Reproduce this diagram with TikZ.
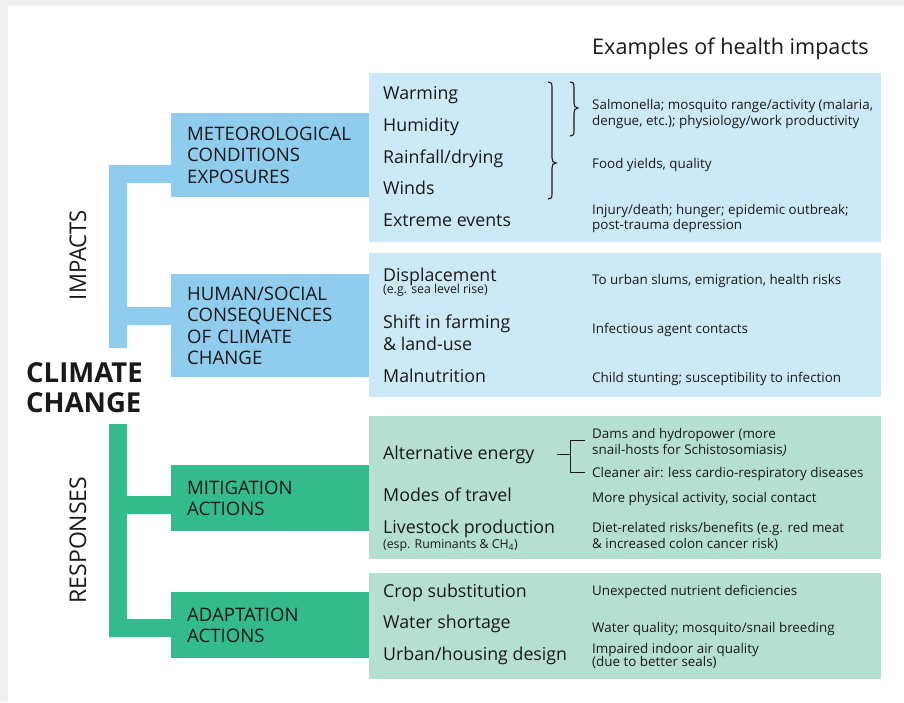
\documentclass[tikz,border=0pt]{standalone}
\usepackage{fontspec}
\setmainfont{Open Sans}
\definecolor{bggray}{RGB}{238,240,242}
\definecolor{boxblue}{RGB}{143,204,238}
\definecolor{panelblue}{RGB}{204,233,248}
\definecolor{boxgreen}{RGB}{51,187,139}
\definecolor{panelgreen}{RGB}{181,223,209}
\definecolor{ink}{RGB}{25,25,25}
\begin{document}
\begin{tikzpicture}[x=1pt,y=-1pt,
  txt/.style={anchor=base west, inner sep=0pt, text=ink},
  item/.style={txt, font=\fontsize{17.8}{20}\selectfont},
  note/.style={txt, font=\fontsize{13.4}{15}\selectfont},
  sub/.style={txt, font=\fontsize{12.3}{13}\selectfont},
  catbox/.style={anchor=north west, inner xsep=16pt, inner ysep=0pt, text width=166pt,
    align=left, text=ink, font=\fontsize{18.6}{21.5}\selectfont},
  brk/.style={draw=ink, line width=1.1pt},
  side/.style={rotate=90, inner sep=0pt, text=ink, font=\fontsize{23}{26}\selectfont}
]
\useasboundingbox (0,0) rectangle (904,702);
\fill[bggray] (0,0) rectangle (904,702);
\fill[white] (8,6) rectangle (904,702);

% panels
\fill[panelblue] (369,73) rectangle (881,242);
\fill[panelblue] (369,253) rectangle (881,397);
\fill[panelgreen] (369,416) rectangle (881,559);
\fill[panelgreen] (369,573) rectangle (881,679);

% connector bars
\fill[boxblue] (109,165) -- (171,165) -- (171,183) -- (127,183) -- (127,307) -- (171,307)
  -- (171,325) -- (127,325) -- (127,348) -- (109,348) -- cycle;
\fill[boxgreen] (109,424) -- (127,424) -- (127,496) -- (171,496) -- (171,514) -- (127,514)
  -- (127,619) -- (171,619) -- (171,637) -- (109,637) -- cycle;

% category boxes
\node[catbox, fill=boxblue, minimum height=84pt] (met) at (171,113)
  {METEOROLOGICAL\\CONDITIONS\\EXPOSURES};
\node[catbox, fill=boxblue, minimum height=103pt] (hum) at (171,274)
  {HUMAN/SOCIAL\\CONSEQUENCES\\OF CLIMATE\\CHANGE};
\node[catbox, fill=boxgreen, minimum height=66pt] (mit) at (171,465)
  {MITIGATION\\ACTIONS};
\node[catbox, fill=boxgreen, minimum height=66pt] (ada) at (171,592)
  {ADAPTATION\\ACTIONS};

% left labels
\node[txt, font=\bfseries\fontsize{27.5}{30}\selectfont] (cc1) at (26,382) {CLIMATE};
\node[txt, font=\bfseries\fontsize{27.5}{30}\selectfont] (cc2) at (26,412) {CHANGE};
\node[side] (imp) at (78,255) {\scalebox{0.96}[1]{IMPACTS}};
\node[side] (resp) at (78,540) {RESPONSES};

% title
\node[txt, font=\fontsize{21.6}{24}\selectfont] (title) at (592,54) {Examples of health impacts};

% panel 1
\node[item] (warm) at (383,99) {Warming};
\node[item] (humid) at (383,131) {Humidity};
\node[item] (rain) at (383,163) {Rainfall/drying};
\node[item] (wind) at (383,194) {Winds};
\node[item] (ext) at (383,226) {Extreme events};
\node[note] (salm1) at (592,109) {Salmonella; mosquito range/activity (malaria,};
\node[note] (salm2) at (592,125) {dengue, etc.); physiology/work productivity};
\node[note] (food) at (592,168) {Food yields, quality};
\node[note] (inj1) at (592,214) {Injury/death; hunger; epidemic outbreak;};
\node[note] (inj2) at (592,229) {post-trauma depression};
\draw[brk] (548,82) .. controls (551,82) and (552,83) .. (552,87) -- (552,158)
  .. controls (552,161) and (553,163) .. (556,163)
  .. controls (553,163) and (552,165) .. (552,168) -- (552,194)
  .. controls (552,198) and (551,199) .. (548,199);
\draw[brk] (570,82) .. controls (573,82) and (574,83) .. (574,87) -- (574,103)
  .. controls (574,106) and (575,108) .. (578,108)
  .. controls (575,108) and (574,110) .. (574,113) -- (574,131)
  .. controls (574,135) and (573,136) .. (570,136);

% panel 2
\node[item] (disp) at (383,281) {Displacement};
\node[sub] (disps) at (383,293.5) {(e.g. sea level rise)};
\node[item] (shift1) at (383,328) {Shift in farming};
\node[item] (shift2) at (383,350) {\& land-use};
\node[item] (maln) at (383,382) {Malnutrition};
\node[note] (urb) at (592,284) {To urban slums, emigration, health risks};
\node[note] (infc) at (592,333) {Infectious agent contacts};
\node[note] (child) at (592,382) {Child stunting; susceptibility to infection};

% panel 3
\node[item] (alt) at (383,459) {Alternative energy};
\node[item] (modes) at (383,501) {Modes of travel};
\node[item] (live) at (383,533) {Livestock production};
\node[sub] (lives) at (383,548) {(esp. Ruminants \& CH\textsubscript{4})};
\node[note] (dams1) at (592,438) {Dams and hydropower (more};
\node[note] (dams2) at (592,454) {snail-hosts for Schistosomiasis\textit{)}};
\node[note] (clean) at (592,477) {Cleaner air: less cardio-respiratory diseases};
\node[note] (phys) at (592,502) {More physical activity, social contact};
\node[note] (diet1) at (592,532) {Diet-related risks/benefits (e.g. red meat};
\node[note] (diet2) at (592,548) {\& increased colon cancer risk)};
\coordinate (aS) at (557,454);
\coordinate (aJ) at (570,454);
\coordinate (aT) at (570,440);
\coordinate (aB) at (570,472);
\draw[brk, line width=0.9pt] (aS) -- (aJ);
\draw[brk, line width=0.9pt] (aT) ++(15,0) -- (aT) -- (aB) -- ++(15,0);

% panel 4
\node[item] (crop) at (383,597) {Crop substitution};
\node[item] (water) at (383,628) {Water shortage};
\node[item] (urban) at (383,660) {Urban/housing design};
\node[note] (unexp) at (592,595) {Unexpected nutrient deficiencies};
\node[note] (wq) at (592,632) {Water quality; mosquito/snail breeding};
\node[note] (imp1) at (592,653) {Impaired indoor air quality};
\node[note] (imp2) at (592,666) {(due to better seals)};
\end{tikzpicture}
\end{document}
